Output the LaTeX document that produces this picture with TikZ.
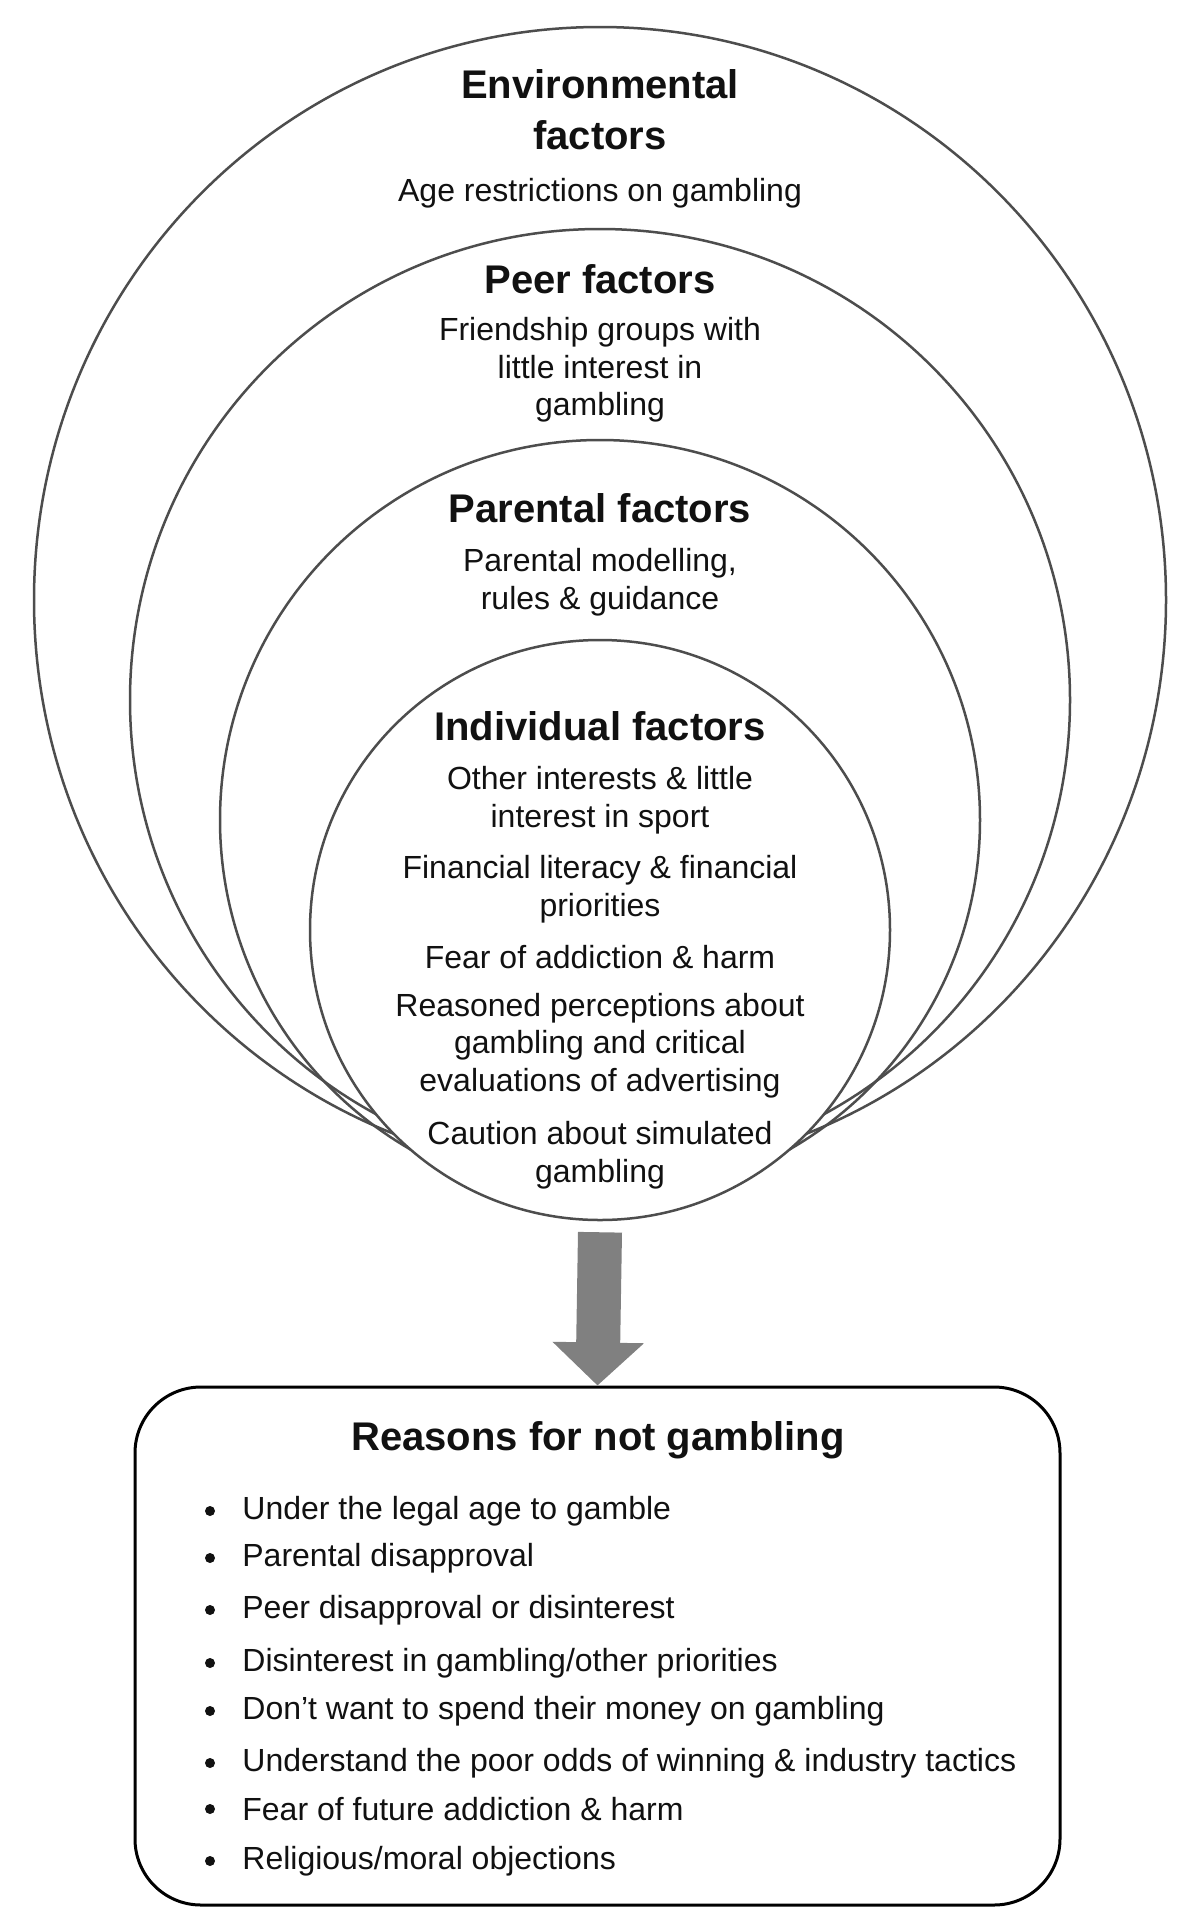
\documentclass[tikz,border=0pt]{standalone}
\usepackage{fontspec}
\setmainfont{Liberation Sans}
\usetikzlibrary{shapes.geometric,arrows.meta}
\definecolor{ringline}{HTML}{4D4D4D}
\definecolor{arrowgray}{HTML}{808080}
\definecolor{ink}{HTML}{111111}
\begin{document}
\begin{tikzpicture}[x=0.5pt,y=-0.5pt,
 ring/.style={ellipse,draw=ringline,line width=1.25pt,inner sep=0pt},
 head/.style={font=\fontsize{20pt}{25.5pt}\selectfont\bfseries,align=center,text=ink,inner sep=0pt},
 body/.style={font=\fontsize{16pt}{18.85pt}\selectfont,align=center,text=ink,inner sep=0pt},
 item/.style={font=\fontsize{16pt}{18.85pt}\selectfont,anchor=west,text=ink,inner sep=0pt},
 dot/.style={circle,fill=ink,inner sep=0pt,minimum size=5pt},
 bigarrow/.style={draw=arrowgray,line width=22pt,-{Triangle[length=21.5pt,width=44.5pt,fill=arrowgray]}},
 reasonbox/.style={draw=black,line width=1.5pt,rounded corners=33pt,inner sep=0pt}]
\useasboundingbox[fill=white] (0,0) rectangle (1200,1928);
% nested rings (outer ones outlined only; the innermost is filled and hides their lower arcs)
\node[ring,minimum width=566pt,minimum height=573pt] (env) at (600,600) {};
\node[ring,minimum width=470pt,minimum height=471pt] (peer) at (600,700) {};
\node[ring,minimum width=380pt,minimum height=380pt] (par) at (600,820) {};
\node[ring,fill=white,minimum width=290pt,minimum height=290pt] (ind) at (600,930) {};
% ring texts
\node[head] (envt) at (600,109.5) {Environmental\\factors};
\node[body] (envb) at (600,193) {Age restrictions on gambling};
\node[head] (peert) at (600,279) {Peer factors};
\node[body] (peerb) at (600,370) {Friendship groups with\\little interest in\\gambling};
\node[head] (part) at (600,508) {Parental factors};
\node[body] (parb) at (600,582) {Parental modelling,\\rules \& guidance};
\node[head] (indt) at (600,726) {Individual factors};
\node[body] (ind1) at (600,800.5) {Other interests \& little\\interest in sport};
\node[body] (ind2) at (600,889) {Financial literacy \& financial\\priorities};
\node[body] (ind3) at (600,957) {Fear of addiction \& harm};
\node[body] (ind4) at (600,1045.5) {Reasoned perceptions about\\gambling and critical\\evaluations of advertising};
\node[body] (ind5) at (600,1155) {Caution about simulated\\gambling};
% reasons box
\node[reasonbox,minimum width=462.5pt,minimum height=259pt] (box) at (597.5,1646) {};
\draw[bigarrow] ([yshift=-5.5pt]ind.south) -- (box.north);
\node[head] (boxt) at (598,1440) {Reasons for not gambling};
\foreach \i/\y/\t in {1/1511/{Under the legal age to gamble},
 2/1558/{Parental disapproval},
 3/1610/{Peer disapproval or disinterest},
 4/1663/{Disinterest in gambling/other priorities},
 5/1711/{Don’t want to spend their money on gambling},
 6/1763/{Understand the poor odds of winning \& industry tactics},
 7/1809/{Fear of future addiction \& harm},
 8/1861/{Religious/moral objections}}{
 \node[dot] (b\i) at (210,\y) {};
 \node[item] (r\i) at (242,\y) {\t};
}
\end{tikzpicture}
\end{document}
